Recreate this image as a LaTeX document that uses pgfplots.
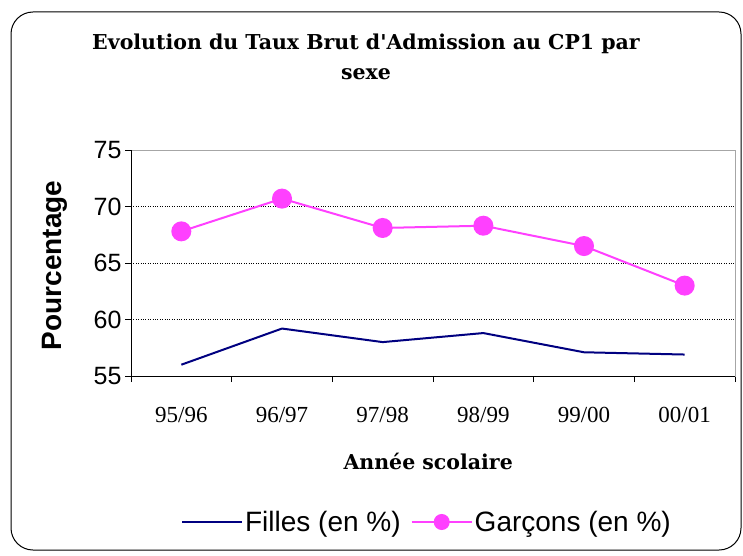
\documentclass[border=0pt]{standalone}
\usepackage{fontspec}
\setmainfont{Liberation Serif}
\newfontfamily\arial{Liberation Sans}
\newfontfamily\titlefont{DejaVu Serif}
\usepackage{pgfplots}
\pgfplotsset{compat=1.18}
\definecolor{filles}{RGB}{0,0,128}
\definecolor{garcons}{RGB}{255,64,255}
\begin{document}
\begin{tikzpicture}
\useasboundingbox (0pt,0pt) rectangle (743pt,555pt);
\draw[black, line width=1pt, rounded corners=22pt] (11pt,5pt) rectangle (741pt,543pt);
\node[font=\titlefont\bfseries\fontsize{20.5}{30}\selectfont, align=center] at (366pt,498pt)
  {Evolution du Taux Brut d'Admission au CP1 par\\sexe};
\begin{axis}[
  at={(131pt,179pt)}, anchor=south west,
  scale only axis, width=604pt, height=226pt,
  xmin=-0.5, xmax=5.5, ymin=55, ymax=75,
  xtick={0,...,5},
  xticklabels={95/96,96/97,97/98,98/99,99/00,00/01},
  minor xtick={-0.5,0.5,...,5.5},
  ytick={55,60,...,75},
  xtick pos=bottom, ytick pos=left,
  tick align=outside,
  major x tick style={draw=none},
  minor x tick style={black, line width=0.8pt},
  major y tick style={black, line width=0.8pt},
  major tick length=6pt, minor tick length=6pt,
  ymajorgrids, major grid style={black, dotted, line width=0.8pt},
  axis line style={gray!70, line width=0.8pt},
  /pgf/number format/assume math mode=true,
  yticklabel style={font=\arial\fontsize{25}{25}\selectfont},
  xticklabel style={font=\fontsize{23}{23}\selectfont, anchor=base, yshift=-40pt},
  xlabel={Année scolaire},
  xlabel style={font=\titlefont\bfseries\fontsize{20.5}{22}\selectfont, at={(axis description cs:0.492,-0.376)}, anchor=center},
  ylabel={Pourcentage},
  ylabel style={font=\arial\bfseries\fontsize{28}{28}\selectfont, at={(axis description cs:-0.126,0.49)}, anchor=center},
  legend columns=2,
  legend style={draw=none, fill=none, font=\arial\fontsize{28}{28}\selectfont,
    at={(axis description cs:0.49,-0.646)}, anchor=center,
    /tikz/every even column/.append style={column sep=8pt}},
  legend image code/.code={\draw[mark repeat=2, mark phase=2, mark size=7pt, #1] plot coordinates {(0pt,0pt) (30pt,0pt) (60pt,0pt)};},
]
\addplot[filles, line width=2pt] coordinates {(0,56.0) (1,59.2) (2,58.0) (3,58.8) (4,57.1) (5,56.9)};
\addlegendentry{Filles (en \%)}
\addplot[garcons, line width=2pt, mark=*, mark size=9pt, mark options={fill=garcons, draw=garcons}] coordinates {(0,67.8) (1,70.7) (2,68.1) (3,68.3) (4,66.5) (5,63.0)};
\addlegendentry{Garçons (en \%)}
\draw[black, line width=1pt] (rel axis cs:0,1) -- (rel axis cs:0,0) -- (rel axis cs:1,0);
\end{axis}
\end{tikzpicture}
\end{document}
